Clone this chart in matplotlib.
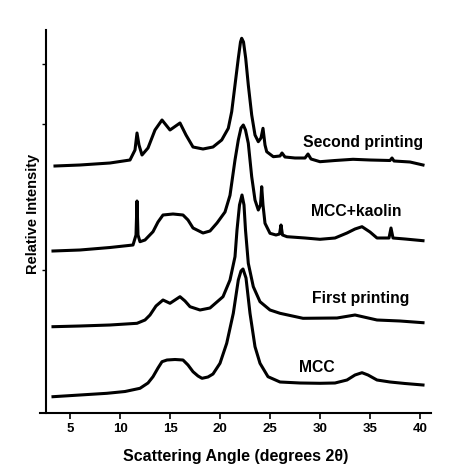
import matplotlib
matplotlib.use("Agg")
import matplotlib.pyplot as plt

plt.rcParams['font.family'] = ['Liberation Sans', 'DejaVu Sans']

# XRD patterns: scattering angle (deg 2theta) and relative intensity
mcc_angle = [3.3, 6.0, 8.7, 10.5, 12.0, 12.8, 13.3, 13.8, 14.2, 14.7, 15.5, 16.3, 16.8,
             17.3, 17.8, 18.2, 18.8, 19.3, 20.0, 20.67, 21.33, 21.83, 22.1, 22.3, 22.6,
             23.0, 23.5, 24.0, 24.8, 26.0, 28.0, 30.0, 31.5, 32.7, 33.5, 34.2, 34.8,
             35.7, 37.0, 38.5, 40.3]
mcc_int = [1.63, 1.8, 1.97, 2.15, 2.47, 3.0, 3.63, 4.5, 5.13, 5.3, 5.35, 5.3, 4.8,
           4.13, 3.7, 3.47, 3.6, 3.9, 4.97, 6.97, 9.97, 13.3, 14.2, 14.4, 13.5,
           9.97, 6.63, 4.97, 3.63, 3.1, 3.0, 2.97, 3.0, 3.3, 3.8, 4.03, 3.8,
           3.3, 3.1, 2.95, 2.8]

first_angle = [3.3, 6.0, 9.0, 11.7, 12.5, 13.0, 13.6, 14.3, 15.0, 15.5, 16.0, 16.5,
               17.0, 18.0, 19.0, 20.3, 21.0, 21.5, 21.7, 21.95, 22.2, 22.4, 22.55,
               22.83, 23.33, 24.0, 25.0, 26.0, 28.3, 31.7, 33.5, 35.7, 38.0, 40.3]
first_int = [1.63, 1.7, 1.8, 1.97, 2.3, 2.8, 3.7, 4.3, 3.97, 4.3, 4.63, 4.2,
             3.63, 3.3, 3.5, 4.63, 6.3, 8.63, 11.3, 13.8, 14.8, 13.8, 11.3,
             7.97, 5.63, 4.13, 3.3, 2.97, 2.47, 2.5, 2.8, 2.3, 2.2, 2.03]

kaolin_angle = [3.3, 6.0, 9.0, 11.3, 11.6, 11.7, 11.8, 12.0, 12.5, 13.3, 13.8, 14.3,
                15.3, 16.3, 16.8, 17.3, 18.3, 19.0, 19.7, 20.5, 21.0, 21.5, 21.83,
                22.1, 22.33, 22.55, 22.83, 23.17, 23.5, 23.83, 24.05, 24.17, 24.3,
                24.5, 25.0, 25.6, 25.95, 26.1, 26.25, 26.7, 28.5, 30.0, 31.5, 32.7,
                33.5, 34.2, 35.0, 35.7, 36.9, 37.1, 37.3, 38.5, 40.3]
kaolin_int = [1.7, 1.8, 2.05, 2.3, 3.3, 6.7, 3.3, 2.63, 2.8, 3.63, 4.6, 5.3,
              5.4, 5.3, 4.8, 4.0, 3.5, 3.7, 4.5, 5.6, 7.27, 10.8, 12.8,
              14.0, 14.3, 13.8, 12.47, 9.13, 6.8, 5.8, 6.3, 8.13, 6.3,
              4.47, 3.47, 3.3, 3.4, 4.3, 3.3, 3.13, 3.0, 2.87, 3.0, 3.5,
              3.9, 4.13, 3.6, 3.0, 3.0, 4.0, 3.0, 2.9, 2.73]

second_angle = [3.5, 6.0, 9.0, 11.0, 11.5, 11.7, 11.9, 12.2, 12.8, 13.5, 14.2, 15.0,
                16.0, 16.6, 17.3, 18.3, 19.3, 20.17, 20.83, 21.17, 21.5, 21.83, 22.05,
                22.17, 22.35, 22.57, 22.83, 23.17, 23.5, 23.83, 24.1, 24.3, 24.5,
                24.67, 25.33, 26.0, 26.2, 26.5, 27.5, 28.5, 28.8, 29.1, 30.0, 31.5,
                33.3, 35.0, 37.0, 37.2, 37.4, 39.0, 40.3]
second_int = [1.7, 1.8, 2.0, 2.3, 3.3, 5.0, 3.8, 2.8, 3.5, 5.3, 6.3, 5.3,
              6.0, 4.8, 3.6, 3.4, 3.6, 4.3, 5.47, 7.13, 9.8, 12.47, 14.1,
              14.47, 14.1, 12.47, 9.8, 6.8, 4.8, 4.13, 4.5, 5.47, 3.8,
              3.13, 2.63, 2.7, 3.0, 2.6, 2.5, 2.5, 2.9, 2.4, 2.13, 2.25,
              2.37, 2.3, 2.25, 2.5, 2.2, 2.1, 1.8]

names = ['MCC', 'First printing', 'MCC+kaolin', 'Second printing']
offsets = [0.0, 7.0, 14.5, 23.0]
label_pos = [(27.9, 4.5), (29.2, 11.4), (29.1, 20.2), (28.3, 27.1)]

curves = [(mcc_angle, mcc_int), (first_angle, first_int),
          (kaolin_angle, kaolin_int), (second_angle, second_int)]

fig = plt.figure(figsize=(4.74, 4.76), dpi=100)
ax = fig.add_axes([40 / 474, 63 / 476, 391 / 474, 383 / 476])

for (ang, inten), off, name, (lx, ly) in zip(curves, offsets, names, label_pos):
    ax.plot(ang, [v + off for v in inten], color='black', lw=2.2,
            solid_joinstyle='round')
    ax.text(lx, ly, name, fontsize=11.3, fontweight='bold', va='center', ha='left')

ax.set_xlim(2.0, 41.1)
ax.set_ylim(0, 38.3)

ax.spines['top'].set_visible(False)
ax.spines['right'].set_visible(False)
ax.spines['left'].set_position(('data', 2.6))
for s in ('left', 'bottom'):
    ax.spines[s].set_linewidth(1.5)

ax.set_xticks([5, 10, 15, 20, 25, 30, 35, 40])
ax.set_yticks([14.3, 28.9, 34.9])
ax.set_yticklabels([])
ax.tick_params(axis='x', direction='out', length=4, width=1.2, labelsize=9.5, pad=3)
ax.tick_params(axis='y', direction='out', length=3, width=1.0)
for lbl in ax.get_xticklabels():
    lbl.set_fontweight('bold')

ax.set_xlabel('Scattering Angle (degrees 2θ)', fontsize=11.5, fontweight='bold', labelpad=10)
ax.set_ylabel('Relative Intensity', fontsize=10.5, fontweight='bold')
ax.yaxis.set_label_coords(0.0, 0.52)

fig.savefig('out.png', dpi=100)
